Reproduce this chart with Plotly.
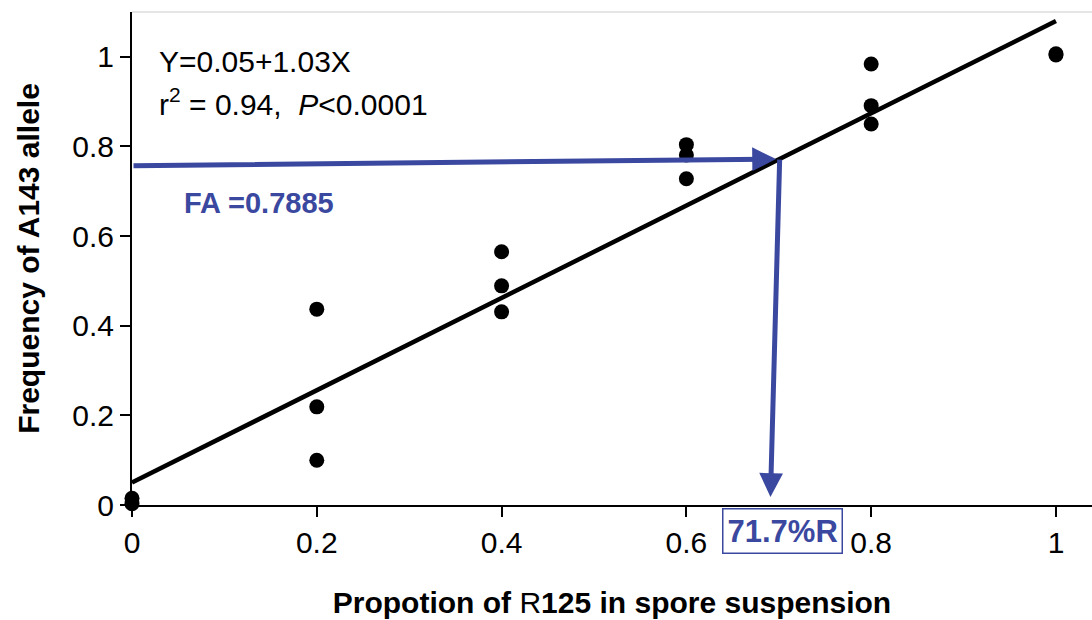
import plotly.graph_objects as go

# Data
x_vals = [0, 0, 0.2, 0.2, 0.2, 0.4, 0.4, 0.4, 0.6, 0.6, 0.6, 0.8, 0.8, 0.8, 1.0, 1.0]
y_vals = [0.015, 0.003, 0.437, 0.219, 0.100, 0.565, 0.489, 0.431, 0.804, 0.781, 0.728, 0.984, 0.891, 0.850, 1.004, 1.007]
intercept = 0.05
slope = 1.03
fit_x = [0, 1.0]
fit_y = [intercept + slope * v for v in fit_x]

x_ticks = [0, 0.2, 0.4, 0.6, 0.8, 1]
x_ticklabels = ["0", "0.2", "0.4", "0.6", "0.8", "1"]
y_ticks = [0, 0.2, 0.4, 0.6, 0.8, 1]
y_ticklabels = ["0", "0.2", "0.4", "0.6", "0.8", "1"]

fa_arrow = {"x0": 0.0, "y0": 0.757, "x1": 0.697, "y1": 0.772}
r_arrow = {"x0": 0.701, "y0": 0.774, "x1": 0.691, "y1": 0.018}

BLUE = "rgb(58,72,160)"
FONT = "Liberation Sans, Arial, sans-serif"

fig = go.Figure()
fig.add_trace(go.Scatter(x=fit_x, y=fit_y, mode="lines",
                         line=dict(color="black", width=4.5), showlegend=False,
                         hoverinfo="skip", cliponaxis=False))
fig.add_trace(go.Scatter(x=x_vals, y=y_vals, mode="markers",
                         marker=dict(color="black", size=15), showlegend=False,
                         cliponaxis=False))

# arrows
fig.add_annotation(x=fa_arrow["x1"], y=fa_arrow["y1"], ax=fa_arrow["x0"], ay=fa_arrow["y0"],
                   xref="x", yref="y", axref="x", ayref="y", text="", showarrow=True,
                   arrowhead=2, arrowsize=0.95, arrowwidth=5, arrowcolor=BLUE, standoff=0)
fig.add_annotation(x=r_arrow["x1"], y=r_arrow["y1"], ax=r_arrow["x0"], ay=r_arrow["y0"],
                   xref="x", yref="y", axref="x", ayref="y", text="", showarrow=True,
                   arrowhead=2, arrowsize=0.95, arrowwidth=5, arrowcolor=BLUE, standoff=0)

fig.add_annotation(x=0.1375, y=0.674, xref="x", yref="y", text="<b>FA =0.7885</b>",
                   showarrow=False, font=dict(family=FONT, size=29, color=BLUE))
fig.add_annotation(x=0.6146, y=-0.007, xref="paper", yref="paper",
                   xanchor="left", yanchor="top", text="<b>71.7%R</b>",
                   showarrow=False, font=dict(family=FONT, size=31, color=BLUE),
                   bordercolor=BLUE, borderwidth=1.5, borderpad=4, bgcolor="white")
fig.add_annotation(x=0.027, y=0.989, xref="x", yref="y", xanchor="left",
                   text="Y=0.05+1.03X", showarrow=False,
                   font=dict(family=FONT, size=30, color="black"))
fig.add_annotation(x=0.027, y=0.9, xref="x", yref="y", xanchor="left",
                   text="r<sup>2</sup> = 0.94,  <i>P</i><0.0001", showarrow=False,
                   font=dict(family=FONT, size=30, color="black"))

fig.add_shape(type="line", xref="paper", yref="paper", x0=0, x1=1, y0=1, y1=1,
              line=dict(color="#dddddd", width=1.5))

fig.update_layout(
    width=1092, height=620,
    margin=dict(l=132, r=0, t=12, b=115),
    plot_bgcolor="white", paper_bgcolor="white",
    font=dict(family=FONT, size=30, color="black"),
    xaxis=dict(range=[0, 1.039], tickvals=x_ticks, ticktext=x_ticklabels,
               showgrid=False, zeroline=False, showline=True, linecolor="black",
               linewidth=2, ticks="outside", ticklen=10, tickwidth=2, tickcolor="black",
               tickfont=dict(size=30),
               title=dict(text="<b>Propotion of </b>R<b>125 in spore suspension</b>",
                          font=dict(size=30), standoff=34)),
    yaxis=dict(range=[0, 1.1], tickvals=y_ticks, ticktext=y_ticklabels,
               showgrid=False, zeroline=False, showline=True, linecolor="black",
               linewidth=2, ticks="outside", ticklen=10, tickwidth=2, tickcolor="black",
               tickfont=dict(size=30),
               title=dict(text="<b>Frequency of A143 allele</b>",
                          font=dict(size=30), standoff=24)),
)

fig.write_html("out.html")
